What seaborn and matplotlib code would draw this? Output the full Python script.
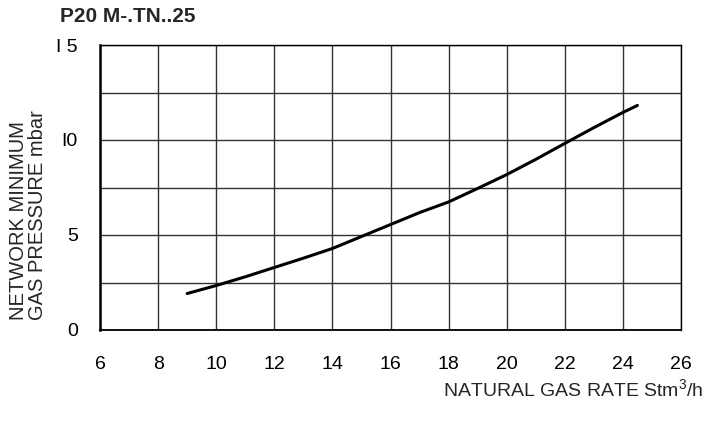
import matplotlib
matplotlib.use("Agg")
import matplotlib.pyplot as plt
import seaborn as sns
import pandas as pd

title = "P20 M-.TN..25"
gas_rate = [9, 10, 11, 12, 13, 14, 15, 16, 17, 18, 19, 20, 21, 22, 23, 24, 24.5]
pressure = [1.92, 2.34, 2.8, 3.29, 3.78, 4.29, 4.92, 5.55, 6.18, 6.74, 7.45, 8.18,
            8.98, 9.82, 10.65, 11.45, 11.82]
x_ticks = [6, 8, 10, 12, 14, 16, 18, 20, 22, 24, 26]
y_ticks = [0, 5, 10, 15]
y_tick_labels = ["0", "5", "I0", "I 5"]
y_grid = [0, 2.5, 5, 7.5, 10, 12.5, 15]
x_label = "NATURAL GAS RATE Stm$^3$/h"
y_label = "NETWORK MINIMUM\nGAS PRESSURE mbar"

sns.set_style("white")
plt.rcParams["font.family"] = ["Liberation Sans", "DejaVu Sans"]
plt.rcParams["mathtext.fontset"] = "custom"
plt.rcParams["mathtext.rm"] = "Liberation Sans"

df = pd.DataFrame({"rate": gas_rate, "pressure": pressure})

fig = plt.figure(figsize=(7.05, 4.21), dpi=100)
ax = fig.add_axes([100 / 705, 1 - 330 / 421, 581 / 705, 285 / 421])

for xv in x_ticks:
    ax.axvline(xv, color="#333333", lw=1.0, zorder=1)
for yv in y_grid:
    ax.axhline(yv, color="#333333", lw=1.0, zorder=1)

sns.lineplot(data=df, x="rate", y="pressure", ax=ax, color="black", lw=2.2, zorder=3)

ax.set_xlim(6, 26)
ax.set_ylim(0, 15)
ax.set_xticks(x_ticks)
ax.set_xticklabels([str(v) for v in x_ticks])
ax.set_yticks(y_ticks)
ax.set_yticklabels(y_tick_labels)
ax.tick_params(axis="x", direction="inout", length=8, width=1, pad=15, labelsize=14, colors="black")
ax.tick_params(axis="y", direction="out", length=7, width=1, pad=9, labelsize=14, colors="black")
ax.set_xlabel("")
ax.set_ylabel("")
for s in ax.spines.values():
    s.set_color("black")
    s.set_linewidth(1.0)
    s.set_visible(True)
ax.spines["left"].set_linewidth(1.8)
ax.spines["bottom"].set_linewidth(1.3)

fig.text(60 / 705, 1 - 16 / 421, title, fontsize=15, fontweight="bold", ha="left", va="center")
fig.text(704 / 705, 1 - 390 / 421, x_label, fontsize=14, ha="right", va="center")
fig.text(28 / 705, 1 - 320 / 421, y_label, fontsize=14.5, ha="left", va="center",
         rotation=90, rotation_mode="anchor", multialignment="left", linespacing=0.95)

fig.savefig("out.png", dpi=100)
